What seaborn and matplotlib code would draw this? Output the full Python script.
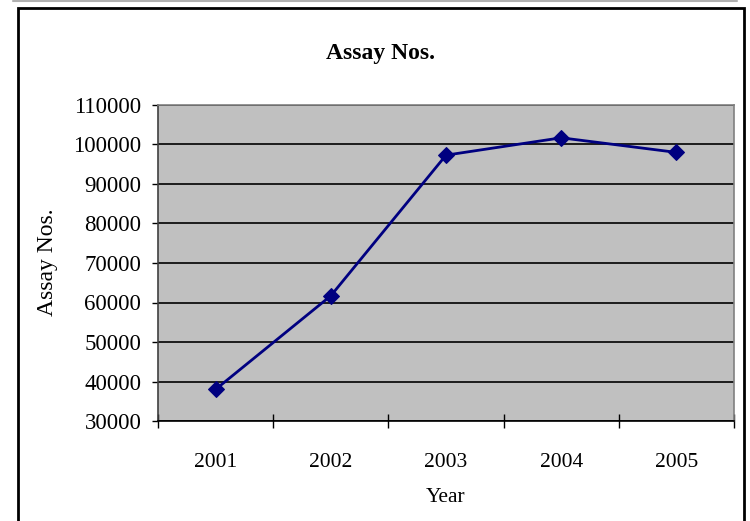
import numpy as np
import pandas as pd
import matplotlib
matplotlib.use('Agg')
import matplotlib.pyplot as plt
from matplotlib.lines import Line2D
from matplotlib.patches import Rectangle
import seaborn as sns

years = ['2001', '2002', '2003', '2004', '2005']
assay_nos = [38000, 61700, 97300, 101700, 98000]
y_ticks = [30000, 40000, 50000, 60000, 70000, 80000, 90000, 100000, 110000]

df = pd.DataFrame({'Year': years, 'Assay Nos.': assay_nos})

sns.set_style('white')
plt.rcParams['font.family'] = ['Liberation Serif', 'DejaVu Serif']
plt.rcParams['text.color'] = 'black'
plt.rcParams['axes.labelcolor'] = 'black'
plt.rcParams['xtick.color'] = 'black'
plt.rcParams['ytick.color'] = 'black'

W, H = 750, 521
fig = plt.figure(figsize=(7.5, 5.21), dpi=100)
ax = fig.add_axes([158 / W, 1 - 421 / H, 576 / W, 316 / H])
ax.set_facecolor('#c0c0c0')

sns.lineplot(data=df, x='Year', y='Assay Nos.', ax=ax, color='#000080',
             linewidth=2, marker='D', markersize=8, markeredgecolor='#000080')

ax.set_xlim(-0.5, len(years) - 0.5)
ax.set_ylim(30000, 110000)
ax.set_yticks(y_ticks)
ax.set_yticklabels([str(v) for v in y_ticks], fontsize=16.5)
ax.set_xticks(range(len(years)))
ax.set_xticklabels(years, fontsize=15.5)
ax.set_xticks(np.arange(-0.5, len(years)), minor=True)
ax.tick_params(axis='x', which='major', bottom=True, length=0, pad=23)
ax.tick_params(axis='x', which='minor', bottom=True, direction='inout',
               length=10, width=1, color='black')
ax.tick_params(axis='y', which='major', left=True, direction='out',
               length=4.5, width=1, color='black', pad=7.5)
ax.yaxis.grid(True, color='black', linewidth=1.2)
for line in ax.get_ygridlines():
    line.set_zorder(1)

for side in ['top', 'right']:
    ax.spines[side].set_color('#808080')
    ax.spines[side].set_linewidth(1.2)
ax.spines['left'].set_color('#404040')
ax.spines['bottom'].set_color('black')
ax.spines['left'].set_linewidth(1.2)
ax.spines['bottom'].set_linewidth(1.2)

ax.set_xlabel('Year', fontsize=15.5, va='center')
ax.xaxis.set_label_coords(0.5, (421 - 498) / 316)
ax.set_ylabel('Assay Nos.', fontsize=17, va='center')
ax.yaxis.set_label_coords((47 - 158) / 576, (421 - 262) / 316)

fig.text(381 / W, 1 - 53 / H, 'Assay Nos.', ha='center', va='center',
         fontsize=17, fontweight='bold')

# chart area border and top rule
fig.add_artist(Rectangle((18 / W, -0.05), (744 - 18) / W, 1.05 - 8 / H,
                         transform=fig.transFigure, fill=False,
                         edgecolor='black', linewidth=2))
fig.add_artist(Line2D([13 / W, 737 / W], [1 - 0.5 / H, 1 - 0.5 / H],
                      transform=fig.transFigure, color='#b0b0b0', linewidth=1.5))

fig.savefig('out.png', dpi=100)
